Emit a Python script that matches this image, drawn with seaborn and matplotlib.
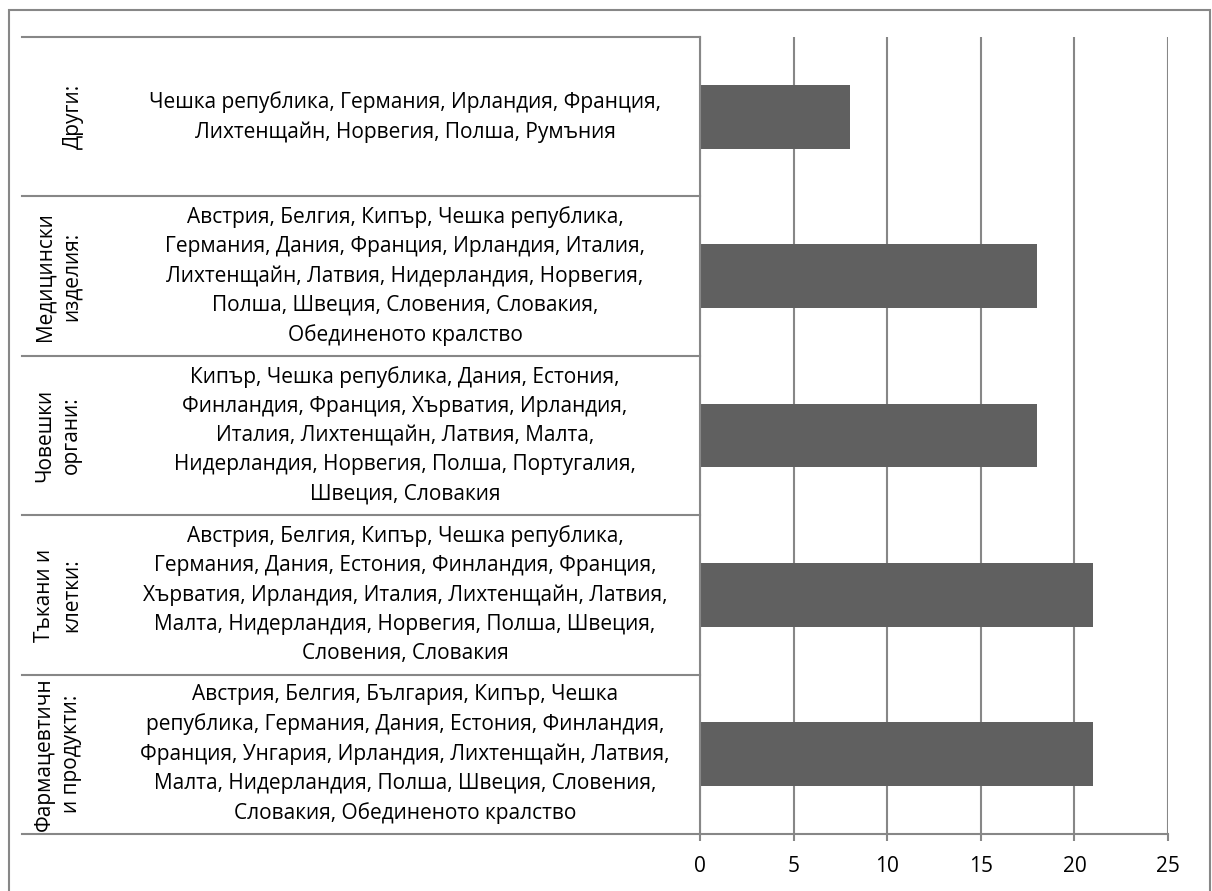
import pandas as pd
import numpy as np
import seaborn as sns
import matplotlib.pyplot as plt
import matplotlib.transforms as mtransforms
from matplotlib.patches import Rectangle

groups = ['Други:', 'Медицински\nизделия:', 'Човешки\nоргани:', 'Тъкани и\nклетки:', 'Фармацевтичн\nи продукти:']
countries = [
    'Чешка република, Германия, Ирландия, Франция,\nЛихтенщайн, Норвегия, Полша, Румъния',
    'Австрия, Белгия, Кипър, Чешка република,\nГермания, Дания, Франция, Ирландия, Италия,\nЛихтенщайн, Латвия, Нидерландия, Норвегия,\nПолша, Швеция, Словения, Словакия,\nОбединеното кралство',
    'Кипър, Чешка република, Дания, Естония,\nФинландия, Франция, Хърватия, Ирландия,\nИталия, Лихтенщайн, Латвия, Малта,\nНидерландия, Норвегия, Полша, Португалия,\nШвеция, Словакия',
    'Австрия, Белгия, Кипър, Чешка република,\nГермания, Дания, Естония, Финландия, Франция,\nХърватия, Ирландия, Италия, Лихтенщайн, Латвия,\nМалта, Нидерландия, Норвегия, Полша, Швеция,\nСловения, Словакия',
    'Австрия, Белгия, България, Кипър, Чешка\nрепублика, Германия, Дания, Естония, Финландия,\nФранция, Унгария, Ирландия, Лихтенщайн, Латвия,\nМалта, Нидерландия, Полша, Швеция, Словения,\nСловакия, Обединеното кралство',
]
values = [8, 18, 18, 21, 21]
xticks = [0, 5, 10, 15, 20, 25]

plt.rcParams['font.family'] = ['Open Sans', 'DejaVu Sans']

W, H = 1212, 891
fig = plt.figure(figsize=(W / 100, H / 100), dpi=100)
ax = fig.add_axes([700 / W, 1 - 834 / H, 468 / W, 797 / H])

df = pd.DataFrame({'group': range(len(values)), 'value': values})
sns.barplot(data=df, y='group', x='value', orient='h', color='#606060',
            saturation=1, width=0.4, ax=ax)

grey = '#878787'
ax.set_xlim(0, 25)
ax.set_ylim(4.5, -0.5)
ax.set_xticks(xticks)
ax.set_yticks([])
ax.set_xlabel('')
ax.set_ylabel('')
ax.grid(axis='x', color=grey, lw=1.5)
ax.set_axisbelow(True)
for s in ['top', 'right']:
    ax.spines[s].set_visible(False)
for s in ['left', 'bottom']:
    ax.spines[s].set_color(grey)
    ax.spines[s].set_linewidth(1.5)
ax.tick_params(axis='x', length=5, width=1.5, color=grey, labelsize=15, pad=11)

tr = mtransforms.blended_transform_factory(fig.transFigure, ax.transData)
for i in range(len(values) + 1):
    ax.plot([22 / W, 700 / W], [i - 0.5, i - 0.5], transform=tr, color=grey,
            lw=1.5, clip_on=False)

for i, (g, c) in enumerate(zip(groups, countries)):
    gx = 58 if '\n' in g else 73
    ax.text(gx / W, i, g, transform=tr, rotation=90, ha='center', va='center',
            fontsize=15, linespacing=1.35)
    ax.text(405 / W, i, c, transform=tr, ha='center', va='center',
            fontsize=15, linespacing=1.5)

fig.patches.append(Rectangle((9 / W, -0.05), 1201 / W, 1.05 - 10 / H,
                             transform=fig.transFigure, fill=False,
                             edgecolor=grey, lw=1.5))

fig.savefig('out.png', dpi=100)
